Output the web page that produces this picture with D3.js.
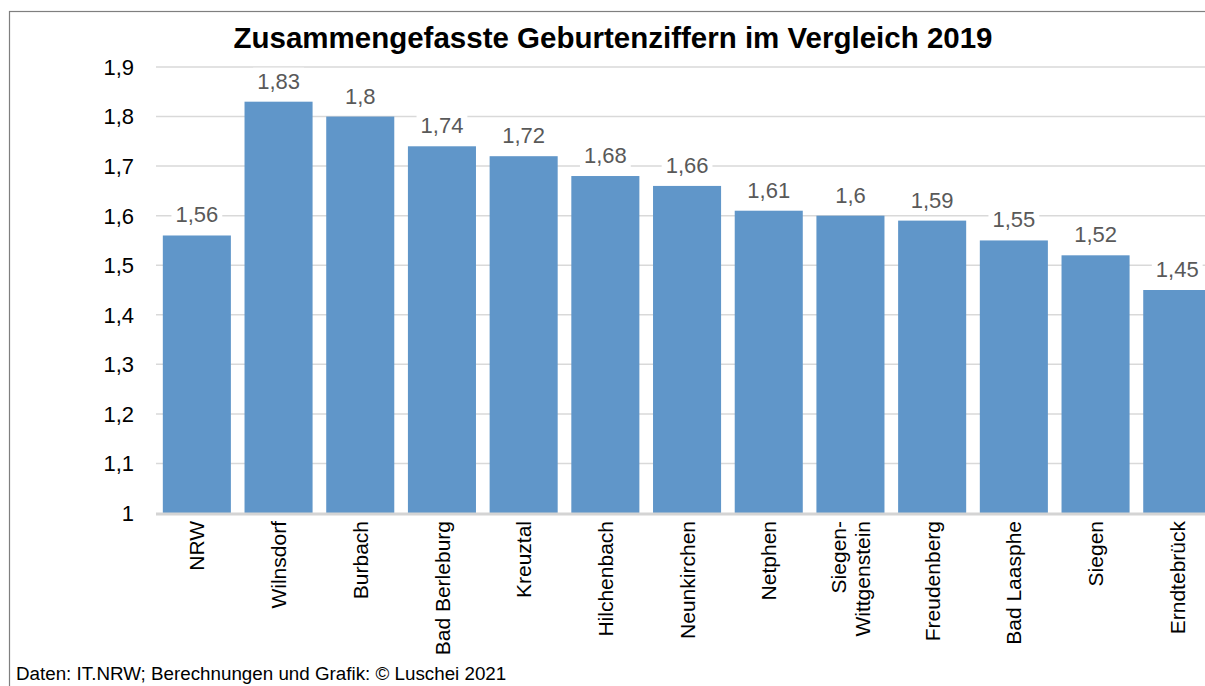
<!DOCTYPE html>
<html>
<head>
<meta charset="utf-8">
<script src="https://cdn.jsdelivr.net/npm/d3@7"></script>
<style>
  body { margin: 0; background: #fff; }
  svg { font-family: "Liberation Sans", Arial, sans-serif; }
</style>
</head>
<body>
<div id="chart"></div>
<script>
// data
var places = ['NRW', 'Wilnsdorf', 'Burbach', 'Bad Berleburg', 'Kreuztal', 'Hilchenbach',
  'Neunkirchen', 'Netphen', 'Siegen-\nWittgenstein', 'Freudenberg', 'Bad Laasphe', 'Siegen', 'Erndtebrück'];
var rates = [1.56, 1.83, 1.8, 1.74, 1.72, 1.68, 1.66, 1.61, 1.6, 1.59, 1.55, 1.52, 1.45];
var yTicks = [1, 1.1, 1.2, 1.3, 1.4, 1.5, 1.6, 1.7, 1.8, 1.9];

var width = 1205, height = 686;

var svg = d3.select('#chart')
  .append('svg')
    .attr('width', width)
    .attr('height', height);

// chart frame (runs off the right edge like the original)
svg.append('rect')
  .attr('x', 9.5).attr('y', 11.5)
  .attr('width', 1300).attr('height', 700)
  .attr('fill', '#fff')
  .attr('stroke', '#7f7f7f')
  .attr('stroke-width', 1.2);

var fmt = function(v) { return String(v).replace('.', ','); };

var x = d3.scaleBand()
  .domain(places)
  .range([156, 156 + 13 * 81.7])
  .paddingInner(0.167)
  .paddingOuter(0.0835);

var y = d3.scaleLinear()
  .domain([1, 1.9])
  .range([513, 67]);

// gridlines
svg.append('g')
  .selectAll('line')
  .data(yTicks.slice(1))
  .enter()
    .append('line')
      .attr('x1', 156).attr('x2', width)
      .attr('y1', function(d) { return y(d); })
      .attr('y2', function(d) { return y(d); })
      .attr('stroke', '#d9d9d9')
      .attr('stroke-width', 1.5);

// y tick labels
svg.append('g')
  .selectAll('text')
  .data(yTicks)
  .enter()
    .append('text')
      .attr('x', 134)
      .attr('y', function(d) { return y(d); })
      .attr('dy', '0.36em')
      .attr('text-anchor', 'end')
      .attr('font-size', 22)
      .attr('fill', '#000')
      .text(fmt);

// bars
svg.append('g')
  .selectAll('rect')
  .data(rates)
  .enter()
    .append('rect')
      .attr('x', function(d, i) { return x(places[i]); })
      .attr('width', x.bandwidth())
      .attr('y', function(d) { return y(d); })
      .attr('height', function(d) { return y(1) - y(d); })
      .attr('fill', '#6096c9');

// baseline
svg.append('line')
  .attr('x1', 156).attr('x2', width)
  .attr('y1', y(1) + 1).attr('y2', y(1) + 1)
  .attr('stroke', '#d4d4d4')
  .attr('stroke-width', 3);

// value labels on white boxes
var labels = svg.append('g')
  .selectAll('g')
  .data(rates)
  .enter()
    .append('g')
      .attr('transform', function(d, i) {
        return 'translate(' + (x(places[i]) + x.bandwidth() / 2) + ',' + (y(d) - 13) + ')';
      });

labels.append('text')
  .attr('text-anchor', 'middle')
  .attr('font-size', 22)
  .attr('fill', '#595959')
  .text(fmt);

labels.insert('rect', 'text')
  .each(function() {
    var bb = this.parentNode.querySelector('text').getBBox();
    d3.select(this)
      .attr('x', bb.x - 4).attr('y', bb.y - 1)
      .attr('width', bb.width + 8).attr('height', bb.height + 2)
      .attr('fill', '#fff');
  });

// category labels, rotated
var cats = svg.append('g')
  .selectAll('text')
  .data(places)
  .enter()
    .append('text')
      .attr('transform', function(d) {
        return 'translate(' + (x(d) + x.bandwidth() / 2) + ',521) rotate(-90)';
      })
      .attr('text-anchor', 'end')
      .attr('font-size', 21)
      .attr('fill', '#000');

cats.each(function(d) {
  var lines = d.split('\n');
  var t = d3.select(this);
  lines.forEach(function(line, k) {
    t.append('tspan')
      .attr('x', 0)
      .attr('y', (k - (lines.length - 1) / 2) * 25)
      .attr('dy', '0.36em')
      .text(line);
  });
});

// title
svg.append('text')
  .attr('x', 613)
  .attr('y', 48)
  .attr('text-anchor', 'middle')
  .attr('font-size', 29.5)
  .attr('font-weight', 'bold')
  .attr('fill', '#000')
  .text('Zusammengefasste Geburtenziffern im Vergleich 2019');

// source note
svg.append('text')
  .attr('x', 16)
  .attr('y', 680)
  .attr('font-size', 18.8)
  .attr('fill', '#000')
  .text('Daten: IT.NRW; Berechnungen und Grafik: © Luschei 2021');
</script>
</body>
</html>
